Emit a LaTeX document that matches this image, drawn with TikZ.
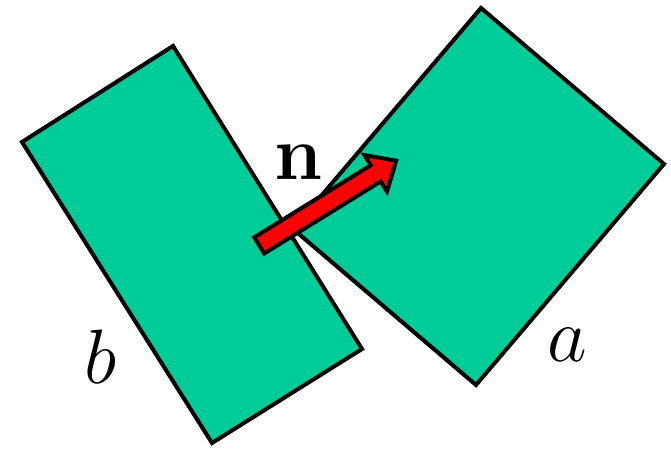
\documentclass[tikz,border=0pt]{standalone}
\definecolor{platecolor}{RGB}{0,204,153}
\tikzset{
  plate/.style={fill=platecolor, draw=black, line width=4pt},
  normalarrow/.style={fill=red, draw=black, line width=4pt},
  biglabel/.style={font=\Huge, scale=3.1, inner sep=0pt}
}
\begin{document}
\begin{tikzpicture}[x=1pt, y=1pt]
    \useasboundingbox (0,0) rectangle (671,449);
    % Corners of the two plates
    \coordinate (b1) at (22,307);
    \coordinate (b2) at (173,403);
    \coordinate (b3) at (362,100);
    \coordinate (b4) at (212,6);
    \coordinate (a1) at (481,441);
    \coordinate (a2) at (664,285);
    \coordinate (a3) at (476,64);
    \coordinate (a4) at (293,220);
    % Plate b and plate a
    \draw[plate] (b1) -- (b2) -- (b3) -- (b4) -- cycle;
    \draw[plate] (a1) -- (a2) -- (a3) -- (a4) -- cycle;
    % The normal, as a block arrow from its tail point
    \coordinate (tail) at (257.5,202.5);
    \begin{scope}[shift={(tail)}, rotate=31.75]
        \draw[normalarrow] (2,-9.5) -- (139,-9.5) -- (139,-21.5) -- (163,0)
            -- (139,21.5) -- (139,9.5) -- (2,9.5) -- cycle;
    \end{scope}
    % Labels
    \node[biglabel] (nlabel) at (299,287) {$\mathbf{n}$};
    \node[biglabel] (blabel) at (101,92) {$b$};
    \node[biglabel] (alabel) at (567,104) {$a$};
\end{tikzpicture}
\end{document}
